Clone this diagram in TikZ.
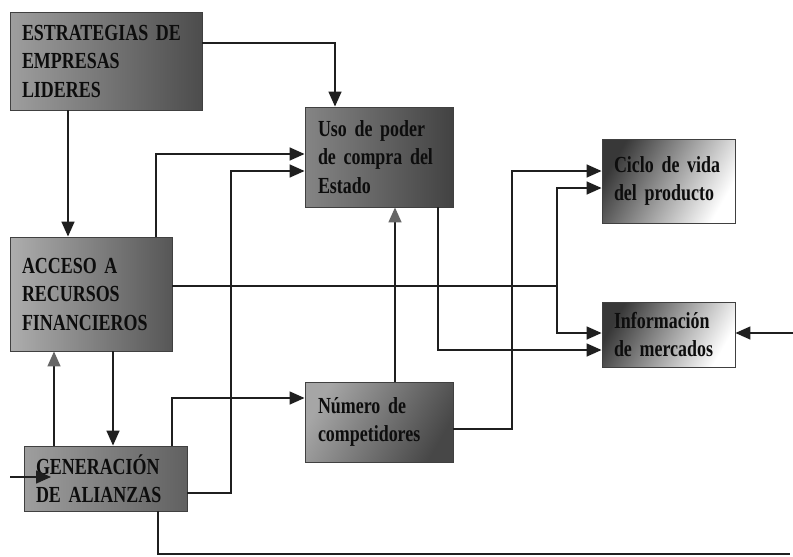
\documentclass[tikz,border=0pt]{standalone}
\usepackage{fontspec}
\setmainfont{Liberation Serif}
\newfontfamily\boxfont[FakeStretch=0.78,WordSpace=0.75]{Liberation Serif}
\usetikzlibrary{arrows.meta}
\begin{document}
\begin{tikzpicture}[x=1pt,y=-1pt,
  box/.style={draw=black!75, line width=0.9pt, inner ysep=0pt, align=left, text=black!95,
    font=\boxfont\bfseries\fontsize{23}{28.5}\selectfont},
  arr/.style={draw=black!88, line width=1.5pt, -{Triangle[length=15pt,width=13pt]}},
  grayarr/.style={arr, -{Triangle[length=15pt,width=13pt,fill=black!60,color=black!60]}},
  ln/.style={draw=black!88, line width=1.5pt}]
\useasboundingbox[fill=white] (0,0) rectangle (793,557);

% boxes
\node[box, inner xsep=12pt, text width=168pt, minimum height=98pt,
  left color=black!38, right color=black!70] (est) at (106,61) {ESTRATEGIAS DE\\EMPRESAS\\LIDERES};
\node[box, inner xsep=13pt, text width=122pt, minimum height=100pt,
  left color=black!48, right color=black!74] (uso) at (379,157) {Uso de poder\\de compra del\\Estado};
\node[box, inner xsep=12pt, text width=109pt, minimum height=84pt,
  left color=black!78, right color=white, shading angle=60] (ciclo) at (668.5,181) {Ciclo de vida\\del producto};
\node[box, inner xsep=12pt, text width=138pt, minimum height=114pt,
  left color=black!32, right color=black!66] (acc) at (91,294) {ACCESO A\\RECURSOS\\FINANCIEROS};
\node[box, inner xsep=12pt, text width=109pt, minimum height=65pt,
  left color=black!78, right color=white, shading angle=60] (info) at (668.5,334.5) {Información\\de mercados};
\node[box, inner xsep=13pt, text width=122pt, minimum height=80pt,
  left color=black!35, right color=black!72, shading angle=60] (num) at (379,422) {Número de\\competidores};
\node[box, inner xsep=12pt, text width=139pt, minimum height=65pt,
  left color=black!38, right color=black!62] (gen) at (105.5,478.5) {GENERACIÓN\\DE ALIANZAS};

% free ends and junctions
\coordinate (j1) at (557,286);
\coordinate (j2) at (231,493);
\coordinate (j3) at (512,429);
\coordinate (e1) at (790,554);
\coordinate (e2) at (793,333);
\coordinate (e3) at (10,477);
\coordinate (e4) at (51,477);

% connectors
\draw[arr] (est.east |- 0,43) -| (uso.north -| 335,0);
\draw[arr] (est.south -| 68,0) -- (acc.north -| 68,0);
\draw[arr] (acc.north -| 156,0) |- (uso.west |- 0,154);
\draw[arr] (gen.east |- j2) -- (j2) |- (uso.west |- 0,171);
\draw[ln] (acc.east |- j1) -- (j1);
\draw[arr] (j1) |- (ciclo.west |- 0,188);
\draw[arr] (j1) |- (info.west |- 0,333);
\draw[arr] (num.east |- j3) -- (j3) |- (ciclo.west |- 0,171);
\draw[arr] (uso.south -| 438,0) |- (info.west |- 0,350);
\draw[grayarr] (num.north -| 395,0) -- (uso.south -| 395,0);
\draw[arr] (acc.south -| 113,0) -- (gen.north -| 113,0);
\draw[grayarr] (gen.north -| 54,0) -- (acc.south -| 54,0);
\draw[arr] (gen.north -| 172,0) |- (num.west |- 0,398);
\draw[ln] (gen.south -| 158,0) |- (e1);
\draw[arr] (e2) -- (info.east |- e2);
\draw[arr] (e3) -- (e4);
\end{tikzpicture}
\end{document}
